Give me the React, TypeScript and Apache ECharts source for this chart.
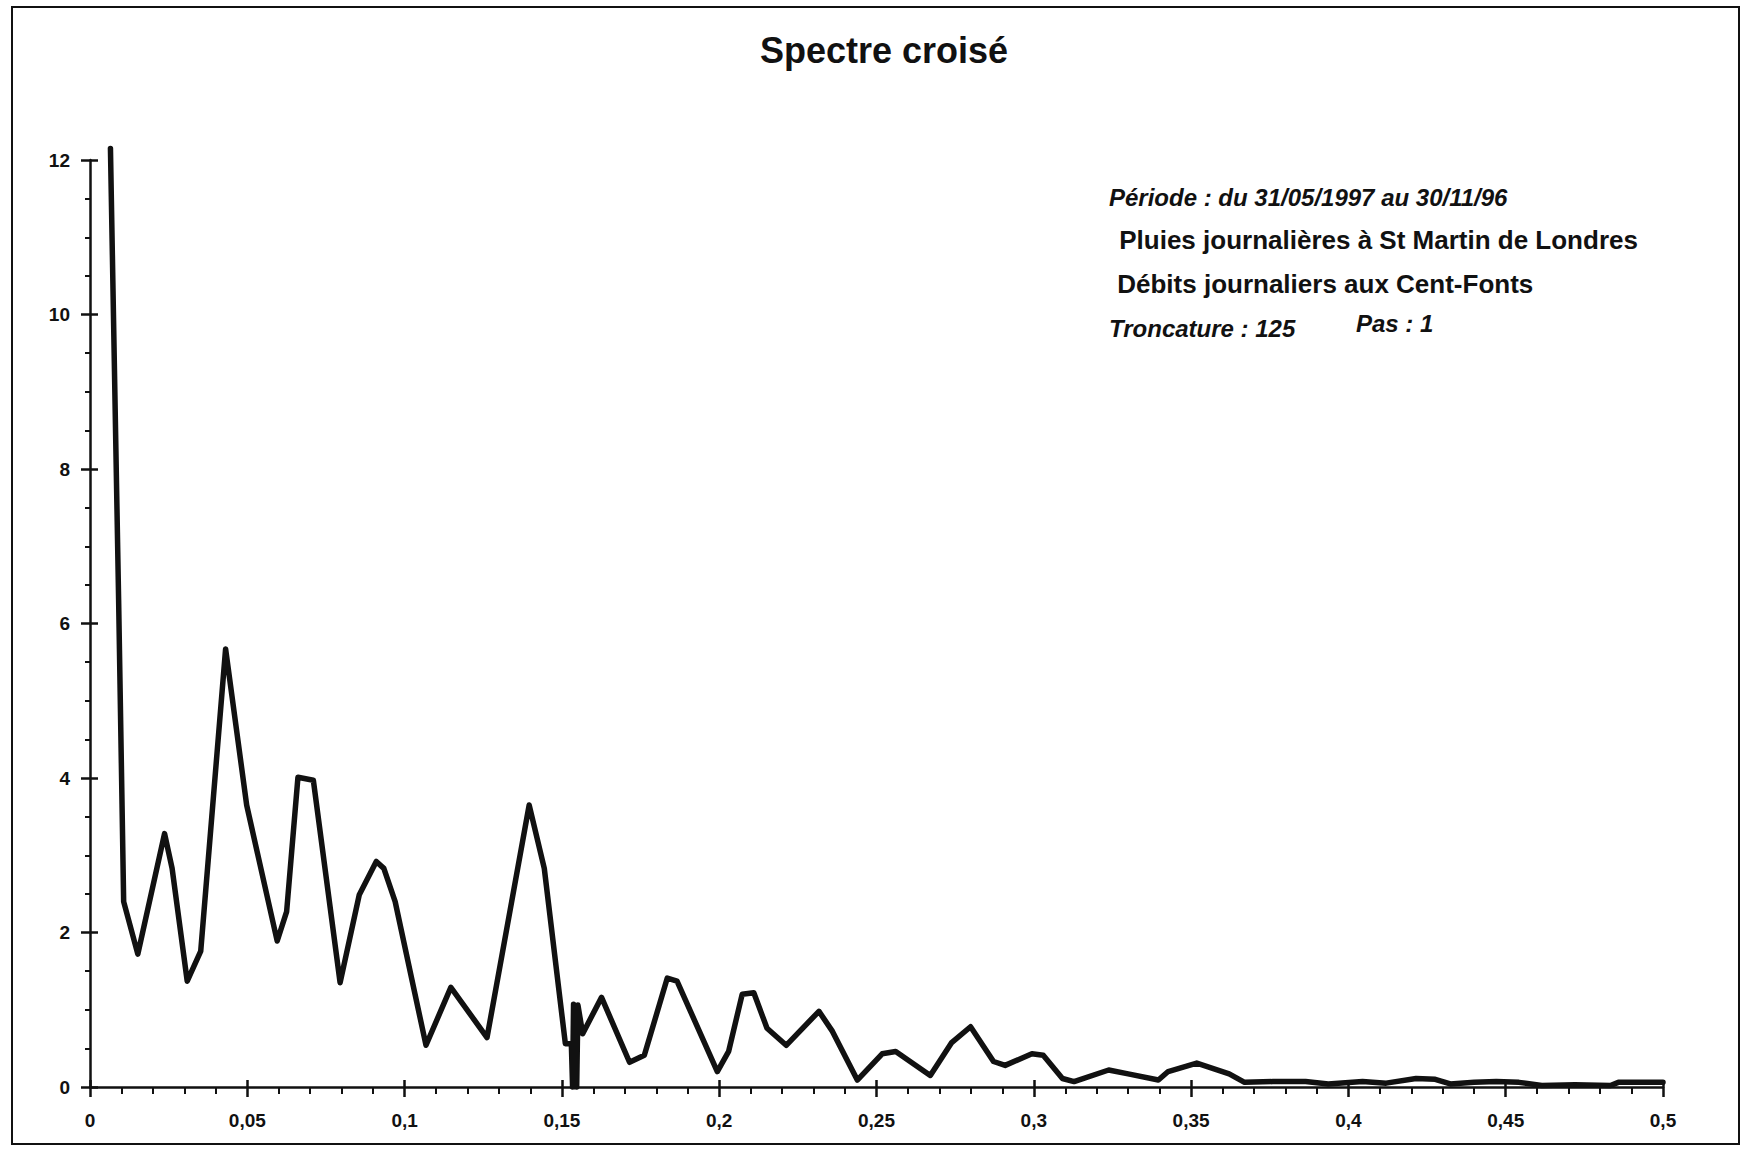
import React, { useEffect, useRef } from "react";
import * as echarts from "echarts";

// Cross-spectrum estimate: frequency (cycles/day) and spectral amplitude
const freq = [
  0.0065, 0.0091, 0.0107, 0.0152, 0.0237, 0.0261, 0.0309, 0.0352, 0.0431, 0.0498,
  0.0595, 0.0625, 0.0661, 0.071, 0.0795, 0.0856, 0.091, 0.0934, 0.097, 0.1068,
  0.1147, 0.1262, 0.1396, 0.1444, 0.1511, 0.153, 0.1534, 0.1537, 0.1547, 0.1551,
  0.1566, 0.1626, 0.1715, 0.1762, 0.1835, 0.1866, 0.1994, 0.203, 0.2073, 0.211,
  0.2152, 0.2213, 0.2317, 0.236, 0.2439, 0.2518, 0.2561, 0.2671, 0.2738, 0.2799,
  0.2872, 0.2909, 0.2994, 0.303, 0.3091, 0.3128, 0.3238, 0.33, 0.3396, 0.3427,
  0.3518, 0.3621, 0.367, 0.376, 0.3864, 0.3936, 0.4045, 0.412, 0.4215, 0.4276,
  0.4324, 0.44, 0.447, 0.4542, 0.4615, 0.472, 0.4833, 0.4858, 0.5,
];
const amplitude = [
  12.15, 6.3, 2.4, 1.72, 3.28, 2.83, 1.37, 1.76, 5.67, 3.65,
  1.89, 2.27, 4.01, 3.97, 1.35, 2.49, 2.92, 2.83, 2.4, 0.54,
  1.29, 0.64, 3.65, 2.83, 0.56, 0.56, 0.0, 1.07, 0.0, 1.06,
  0.69, 1.16, 0.32, 0.41, 1.41, 1.37, 0.2, 0.46, 1.2, 1.22,
  0.76, 0.54, 0.98, 0.72, 0.09, 0.43, 0.46, 0.15, 0.57, 0.78,
  0.33, 0.28, 0.43, 0.41, 0.11, 0.07, 0.22, 0.17, 0.09, 0.2,
  0.31, 0.17, 0.06, 0.07, 0.07, 0.04, 0.07, 0.05, 0.11, 0.1,
  0.04, 0.06, 0.07, 0.06, 0.02, 0.03, 0.02, 0.06, 0.06,
];

const xTicks = [0, 0.05, 0.1, 0.15, 0.2, 0.25, 0.3, 0.35, 0.4, 0.45, 0.5];
const yTicks = [0, 2, 4, 6, 8, 10, 12];

const titleText = "Spectre croisé";
const infoLines = [
  "Période : du 31/05/1997 au 30/11/96",
  " Pluies journalières à St Martin de Londres",
  " Débits journaliers aux Cent-Fonts",
  "Troncature : 125",
  "Pas : 1",
];

const FONT = "'Liberation Sans', Arial, sans-serif";
const INK = "#111111";

export default function App() {
  const ref = useRef<HTMLDivElement>(null);

  useEffect(() => {
    if (!ref.current) return;
    const chart = echarts.init(ref.current, undefined, { renderer: "svg" });

    const points = freq.map((f, i) => [f, amplitude[i]]);
    const xMin = xTicks[0];
    const xMax = xTicks[xTicks.length - 1];
    const xStep = xTicks[1] - xTicks[0];
    const yMin = yTicks[0];
    const yMax = yTicks[yTicks.length - 1];
    const yStep = yTicks[1] - yTicks[0];

    const fmtX = (v: number) => String(Math.round(v * 100) / 100).replace(".", ",");

    chart.setOption({
      animation: false,
      backgroundColor: "#ffffff",
      grid: { left: 90, right: 81, top: 160, bottom: 62, containLabel: false },
      xAxis: [
        {
          type: "value",
          position: "bottom",
          min: xMin,
          max: xMax,
          interval: xStep,
          axisLine: { show: true, onZero: false, lineStyle: { color: INK, width: 2.5 } },
          axisTick: { show: true, inside: false, length: 10, lineStyle: { color: INK, width: 2.5 } },
          minorTick: { show: true, splitNumber: 5, length: 7, lineStyle: { color: INK, width: 2 } },
          axisLabel: {
            show: true,
            margin: 24,
            color: INK,
            fontFamily: FONT,
            fontWeight: "bold",
            fontSize: 19,
            formatter: fmtX,
          },
          splitLine: { show: false },
          minorSplitLine: { show: false },
        },
        {
          type: "value",
          position: "bottom",
          min: xMin,
          max: xMax,
          interval: xStep,
          axisLine: { show: false, onZero: false },
          axisTick: { show: true, inside: true, length: 7, lineStyle: { color: INK, width: 2.5 } },
          axisLabel: { show: false },
          splitLine: { show: false },
        },
      ],
      yAxis: [
        {
          type: "value",
          position: "left",
          min: yMin,
          max: yMax,
          interval: yStep,
          axisLine: { show: true, onZero: false, lineStyle: { color: INK, width: 2.5 } },
          axisTick: { show: true, inside: false, length: 9, lineStyle: { color: INK, width: 2.5 } },
          minorTick: { show: true, splitNumber: 4, length: 5, lineStyle: { color: INK, width: 2 } },
          axisLabel: {
            show: true,
            margin: 20,
            color: INK,
            fontFamily: FONT,
            fontWeight: "bold",
            fontSize: 19,
          },
          splitLine: { show: false },
          minorSplitLine: { show: false },
        },
        {
          type: "value",
          position: "left",
          min: yMin,
          max: yMax,
          interval: yStep,
          axisLine: { show: false, onZero: false },
          axisTick: { show: true, inside: true, length: 8, lineStyle: { color: INK, width: 2.5 } },
          axisLabel: { show: false },
          splitLine: { show: false },
        },
      ],
      series: [
        {
          type: "line",
          xAxisIndex: 0,
          yAxisIndex: 0,
          data: points,
          symbol: "none",
          clip: false,
          lineStyle: { color: INK, width: 5.5, join: "round", cap: "round" },
        },
      ],
      graphic: [
        {
          type: "rect",
          shape: { x: 12, y: 7, width: 1727, height: 1137 },
          style: { fill: "none", stroke: INK, lineWidth: 2 },
          silent: true,
        },
        {
          type: "text",
          x: 884,
          y: 50,
          style: {
            text: titleText,
            fill: INK,
            font: `bold 36px ${FONT}`,
            textAlign: "center",
            textVerticalAlign: "middle",
          },
        },
        {
          type: "text",
          x: 1109,
          y: 197,
          style: { text: infoLines[0], fill: INK, font: `italic bold 24px ${FONT}`, textVerticalAlign: "middle" },
        },
        {
          type: "text",
          x: 1112,
          y: 240,
          style: { text: infoLines[1], fill: INK, font: `bold 26px ${FONT}`, textVerticalAlign: "middle" },
        },
        {
          type: "text",
          x: 1110,
          y: 284,
          style: { text: infoLines[2], fill: INK, font: `bold 26px ${FONT}`, textVerticalAlign: "middle" },
        },
        {
          type: "text",
          x: 1109,
          y: 328,
          style: { text: infoLines[3], fill: INK, font: `italic bold 24px ${FONT}`, textVerticalAlign: "middle" },
        },
        {
          type: "text",
          x: 1356,
          y: 323,
          style: { text: infoLines[4], fill: INK, font: `italic bold 24px ${FONT}`, textVerticalAlign: "middle" },
        },
      ],
    });

    return () => chart.dispose();
  }, []);

  return (
    <div
      ref={ref}
      style={{ position: "absolute", left: 0, top: 0, width: 1744, height: 1149, background: "#fff" }}
    />
  );
}
